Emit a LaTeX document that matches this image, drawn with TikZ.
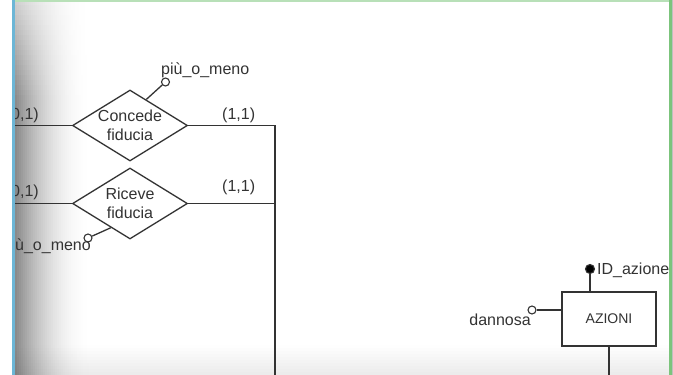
\documentclass[tikz,border=0pt]{standalone}
\usepackage{fontspec}
\setmainfont{Liberation Sans}
\usetikzlibrary{shapes.geometric,calc}
\definecolor{ink}{HTML}{333333}
\definecolor{leftblue}{HTML}{6CB6D6}
\definecolor{topgreen}{HTML}{B8E0B8}
\definecolor{rightgreen}{HTML}{7CC47C}
\tikzset{
  rel/.style={diamond, draw=ink, line width=1.3pt, minimum width=115pt, minimum height=71pt, inner sep=0pt},
  ent/.style={rectangle, draw=ink, line width=1.3pt, minimum width=94pt, minimum height=54pt, inner sep=0pt, fill=white},
  txt/.style={text=ink, inner sep=0pt, font=\fontsize{16}{19}\selectfont},
  etxt/.style={text=ink, inner sep=0pt, font=\fontsize{14}{17}\selectfont},
  conn/.style={draw=ink, line width=1.3pt},
  attr/.style={circle, draw=ink, line width=1.1pt, fill=white, minimum size=8pt, inner sep=0pt},
  keyattr/.style={circle, draw=ink, line width=1.1pt, fill=black, minimum size=9pt, inner sep=0pt}
}
% one horizontal band of the window background, from y=#1 to y=#2
\newcommand{\myGradRow}[2]{%
  \pgfmathsetmacro\myYm{(#1+#2)/2}%
  \pgfmathsetmacro\myV{0.4+0.6*min(1,\myYm/100)}%
  \pgfmathsetmacro\myB{0.08*max(0,(\myYm-345)/30)}%
  \pgfmathsetmacro\myBP{100*\myB}%
  \fill[black!\myBP] (91,#1) rectangle (671,#2+0.5);
  \foreach \myCol in {0,...,37} {%
    \pgfmathsetmacro\myX{15+2*\myCol}%
    \pgfmathsetmacro\myT{(\myX+1-15)/76}%
    \pgfmathsetmacro\myD{0.47*(1-\myT)*(1-\myT)*\myV}%
    \pgfmathsetmacro\myCP{100*(1-(1-\myD)*(1-\myB))}%
    \fill[black!\myCP] (\myX,#1) rectangle (\myX+2.5,#2+0.5);
  }%
}
\begin{document}
\begin{tikzpicture}[x=1pt,y=-1pt]
\useasboundingbox (0,0) rectangle (673,375);
% background
\fill[white] (0,0) rectangle (673,375);
\foreach \myR in {0,...,19} {
  \pgfmathsetmacro\myYa{5*\myR}
  \pgfmathsetmacro\myYb{5*\myR+5}
  \myGradRow{\myYa}{\myYb}
}
\myGradRow{100}{345}
\foreach \myR in {0,...,9} {
  \pgfmathsetmacro\myYa{345+3*\myR}
  \pgfmathsetmacro\myYb{348+3*\myR}
  \myGradRow{\myYa}{\myYb}
}
\fill[black!25] (671,0) rectangle (673,375);
% diagram
\begin{scope}
\clip (15,0) rectangle (669,375);
\node[rel] (d1) at (130,125.5) {};
\node[txt, align=center] (t1) at (d1.center) {Concede\\fiducia};
\node[rel] (d2) at (130,203.5) {};
\node[txt, align=center] (t2) at (d2.center) {Riceve\\fiducia};
\coordinate (l1) at (0,125.5);
\coordinate (l2) at (0,203.5);
\coordinate (j1) at (275,125.5);
\coordinate (j2) at (275,203.5);
\coordinate (jb) at (275,380);
\draw[conn] (l1) -- (d1.west);
\draw[conn] (l2) -- (d2.west);
\draw[conn] (d1.east) -- (j1) -- (jb);
\draw[conn] (d2.east) -- (j2);
\node[txt, anchor=base east] (c1) at (39,119) {(0,1)};
\node[txt, anchor=base east] (c2) at (39,196) {(0,1)};
\node[txt, anchor=base west] (c3) at (222,119) {(1,1)};
\node[txt, anchor=base west] (c4) at (222,191) {(1,1)};
% attributes of relations
\coordinate (e1) at ($(d1.north)!0.28!(d1.east)$);
\node[attr] (a1) at (165.5,82) {};
\draw[conn] (e1) -- (a1);
\node[txt, anchor=base west] (a1t) at (161,74) {più\_o\_meno};
\coordinate (e2) at ($(d2.west)!0.67!(d2.south)$);
\node[attr] (a2) at (88,238) {};
\draw[conn] (e2) -- (a2);
\node[txt, anchor=base east] (a2t) at (91,250) {più\_o\_meno};
% entity
\node[ent] (az) at (609,319) {};
\node[etxt] (azt) at (az.center) {AZIONI};
\node[keyattr] (k1) at (590,269) {};
\draw[conn] (k1) -- (k1 |- az.north);
\node[txt, anchor=base west] (k1t) at (597,274) {ID\_azione};
\node[attr] (a3) at (532,310) {};
\draw[conn] (a3) -- (a3 -| az.west);
\node[txt, anchor=base east] (a3t) at (531,325) {dannosa};
\coordinate (azb) at (az.south |- jb);
\draw[conn] (az.south) -- (azb);
\end{scope}
% frame borders
\fill[topgreen] (15,0) rectangle (669,2);
\fill[leftblue] (12,0) rectangle (15,375);
\fill[rightgreen] (668.5,0) rectangle (671.5,375);
\end{tikzpicture}
\end{document}
